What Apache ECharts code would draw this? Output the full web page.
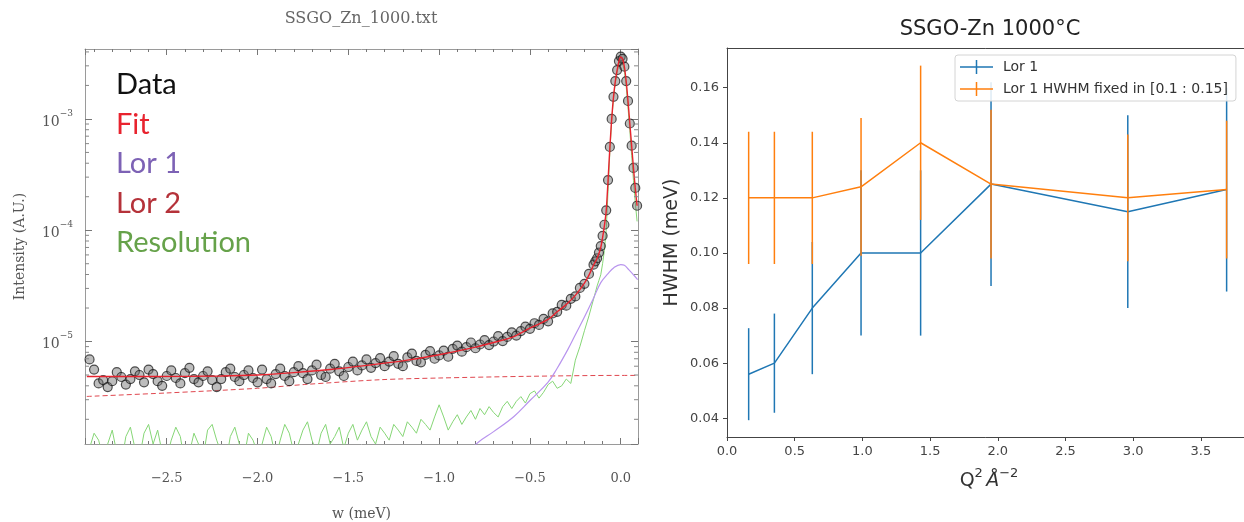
<!DOCTYPE html>
<html><head><meta charset="utf-8">
<script src="https://cdn.jsdelivr.net/npm/echarts@6/dist/echarts.min.js"></script>
<style>html,body{margin:0;padding:0;background:#fff}#c{width:1244px;height:522px}</style>
</head><body><div id="c"></div><script>
// ---------- Left panel: SSGO_Zn_1000.txt ----------
const wData = [
-2.925,-2.9,-2.875,-2.85,-2.825,-2.8,-2.775,-2.75,-2.725,-2.7,
-2.675,-2.65,-2.625,-2.6,-2.575,-2.55,-2.525,-2.5,-2.475,-2.45,
-2.425,-2.4,-2.375,-2.35,-2.325,-2.3,-2.275,-2.25,-2.225,-2.2,
-2.175,-2.15,-2.125,-2.1,-2.075,-2.05,-2.025,-2.0,
-1.975,-1.95,-1.925,-1.9,-1.875,-1.85,-1.825,-1.8,-1.775,-1.75,
-1.725,-1.7,-1.675,-1.65,-1.625,-1.6,-1.575,-1.55,-1.525,-1.5,
-1.475,-1.45,-1.425,-1.4,-1.375,-1.35,-1.325,-1.3,-1.275,-1.25,
-1.225,-1.2,-1.175,-1.15,-1.125,-1.1,-1.075,-1.05,-1.025,-1.0,
-0.975,-0.95,-0.925,-0.9,-0.875,-0.85,-0.825,-0.8,-0.775,-0.75,
-0.725,-0.7,-0.675,-0.65,-0.625,-0.6,-0.575,-0.55,-0.525,-0.5,
-0.475,-0.45,-0.425,-0.4,-0.375,-0.35,-0.325,-0.3,-0.275,-0.25,-0.225,-0.2,-0.175,
-0.15,-0.14,-0.13,-0.12,-0.11,-0.1,-0.09,-0.08,-0.07,-0.06,-0.05,-0.04,-0.03,-0.02,-0.01,0,
0.01,0.02,0.03,0.04,0.05,0.06,0.07,0.08,0.09
];
const dataI = [
6.9e-6,5.6e-6,4.2e-6,4.5e-6,3.9e-6,4.4e-6,5.3e-6,4.8e-6,4.1e-6,4.6e-6,
5.4e-6,5.0e-6,4.3e-6,5.6e-6,5.1e-6,4.4e-6,4.0e-6,4.9e-6,5.5e-6,4.7e-6,
4.2e-6,5.2e-6,5.8e-6,4.6e-6,4.3e-6,4.9e-6,5.4e-6,4.5e-6,3.9e-6,4.6e-6,
5.3e-6,5.7e-6,4.8e-6,4.4e-6,5.0e-6,5.5e-6,4.7e-6,4.3e-6,
5.6e-6,4.6e-6,4.2e-6,5.1e-6,5.7e-6,4.9e-6,4.4e-6,5.3e-6,6.0e-6,5.2e-6,
4.6e-6,5.5e-6,6.2e-6,5.0e-6,4.8e-6,5.7e-6,6.3e-6,5.4e-6,4.9e-6,5.9e-6,
6.6e-6,5.5e-6,6.1e-6,6.9e-6,5.8e-6,6.4e-6,7.1e-6,6.0e-6,6.6e-6,7.4e-6,
6.3e-6,6.0e-6,7.2e-6,7.8e-6,6.7e-6,6.5e-6,7.6e-6,8.2e-6,7.0e-6,7.5e-6,
8.3e-6,7.3e-6,8.6e-6,9.2e-6,8.1e-6,8.9e-6,9.8e-6,8.7e-6,9.4e-6,10.3e-6,
9.3e-6,10.0e-6,11.2e-6,10.1e-6,11.0e-6,12.1e-6,11.3e-6,12.4e-6,13.6e-6,13.0e-6,
14.6e-6,14.1e-6,16.0e-6,15.2e-6,17.9e-6,18.5e-6,21.3e-6,21.0e-6,24.2e-6,25.4e-6,30.3e-6,33.0e-6,40.5e-6,
49e-6,52.5e-6,56e-6,63e-6,72e-6,89e-6,1.12e-4,1.51e-4,2.82e-4,5.6e-4,1.0e-3,1.58e-3,2.19e-3,2.75e-3,3.31e-3,3.63e-3,
3.47e-3,2.95e-3,2.19e-3,1.45e-3,9.1e-4,5.75e-4,3.63e-4,2.4e-4,1.66e-4
];
const resI = [
1.1e-6,1.5e-6,1.3e-6,0.9e-6,1.2e-6,1.6e-6,1.0e-6,0.8e-6,1.4e-6,1.7e-6,
1.1e-6,0.9e-6,1.5e-6,1.8e-6,1.2e-6,1.6e-6,1.0e-6,0.9e-6,1.3e-6,1.7e-6,
1.4e-6,0.8e-6,1.0e-6,1.5e-6,1.2e-6,0.9e-6,1.6e-6,1.8e-6,1.3e-6,1.0e-6,
0.8e-6,1.4e-6,1.7e-6,1.2e-6,0.9e-6,1.5e-6,1.3e-6,1.0e-6,
1.2e-6,1.7e-6,1.4e-6,0.9e-6,1.3e-6,1.8e-6,1.5e-6,1.0e-6,1.2e-6,1.6e-6,
1.9e-6,1.3e-6,1.0e-6,1.5e-6,1.8e-6,1.2e-6,1.4e-6,1.7e-6,1.1e-6,1.5e-6,
1.8e-6,1.3e-6,1.6e-6,1.9e-6,1.4e-6,1.2e-6,1.7e-6,1.5e-6,1.3e-6,1.8e-6,
1.6e-6,1.4e-6,1.9e-6,1.7e-6,1.5e-6,2.0e-6,1.8e-6,1.6e-6,2.1e-6,2.7e-6,
2.1e-6,1.6e-6,1.9e-6,2.2e-6,1.8e-6,2.1e-6,2.4e-6,2.0e-6,2.5e-6,2.2e-6,
2.6e-6,2.3e-6,2.1e-6,2.6e-6,2.9e-6,2.5e-6,2.9e-6,3.2e-6,2.8e-6,3.4e-6,
3.6e-6,3.1e-6,3.5e-6,4.1e-6,4.4e-6,3.8e-6,4.0e-6,4.6e-6,4.2e-6,6.8e-6,9.0e-6,12.5e-6,17.0e-6,
24e-6,27.5e-6,31.6e-6,35.5e-6,39.8e-6,50e-6,66e-6,100e-6,224e-6,501e-6,955e-6,1.51e-3,2.09e-3,2.63e-3,3.09e-3,3.31e-3,
3.16e-3,2.69e-3,1.95e-3,1.26e-3,7.9e-4,4.7e-4,2.8e-4,1.78e-4,1.2e-4
];
const fitW = [-2.94,-2.6,-2.2,-2.0,-1.8,-1.6,-1.4,-1.2,-1.0,-0.8,-0.7,-0.6,-0.5,-0.4,-0.35,-0.3,-0.25,-0.2,-0.175,-0.15,
  -0.13,-0.11,-0.1,-0.09,-0.08,-0.07,-0.06,-0.05,-0.04,-0.03,-0.02,-0.01,0,0.01,0.02,0.03,0.04,0.05,0.06,0.07,0.08,0.09];
const fitI = [4.85e-6,4.85e-6,4.9e-6,5.0e-6,5.25e-6,5.6e-6,6.1e-6,6.7e-6,7.6e-6,8.9e-6,9.8e-6,10.9e-6,13.2e-6,15.8e-6,18.5e-6,
  21.5e-6,26e-6,33.5e-6,39.5e-6,48.5e-6,56e-6,70e-6,86e-6,1.1e-4,1.5e-4,2.8e-4,5.5e-4,9.9e-4,1.57e-3,2.18e-3,
  2.74e-3,3.3e-3,3.6e-3,3.45e-3,2.94e-3,2.18e-3,1.45e-3,9.1e-4,5.75e-4,3.63e-4,2.4e-4,1.66e-4];
const lor1W = [-0.9,-0.786,-0.7,-0.588,-0.5,-0.401,-0.35,-0.291,-0.25,-0.2,-0.15,-0.11,-0.07,-0.038,0,0.02,0.044,0.07,0.093];
const lor1I = [8.3e-7,1.24e-6,1.55e-6,2.12e-6,2.95e-6,4.29e-6,5.75e-6,8.5e-6,1.15e-5,1.66e-5,2.45e-5,3.38e-5,4.07e-5,4.61e-5,4.91e-5,4.84e-5,4.43e-5,3.98e-5,3.6e-5];
const lor2W = [-2.94,-2.5,-2.0,-1.74,-1.32,-1.0,-0.5,0.0,0.09];
const lor2I = [3.21e-6,3.45e-6,3.8e-6,4.11e-6,4.54e-6,4.7e-6,4.87e-6,4.96e-6,4.96e-6];
const yMinorTicks = [2e-6,3e-6,4e-6,5e-6,6e-6,7e-6,8e-6,9e-6,2e-5,3e-5,4e-5,5e-5,6e-5,7e-5,8e-5,9e-5,
  2e-4,3e-4,4e-4,5e-4,6e-4,7e-4,8e-4,9e-4,2e-3,3e-3,4e-3];
const leftLegend = [['Data','#111111'],['Fit','#e8232e'],['Lor 1','#7d62b5'],['Lor 2','#b5323a'],['Resolution','#66a24a']];

// ---------- Right panel: SSGO-Zn 1000°C ----------
const q2 = [0.16,0.35,0.63,0.99,1.43,1.95,2.96,3.69];
const lor1Hwhm = [0.056,0.060,0.080,0.100,0.100,0.125,0.115,0.123];
const lor1Err  = [0.0167,0.018,0.024,0.030,0.030,0.037,0.035,0.037];
const fixedHwhm = [0.120,0.120,0.120,0.124,0.140,0.125,0.120,0.123];
const fixedErr  = [0.024,0.024,0.024,0.025,0.028,0.027,0.023,0.025];
const rightNames = ['Lor 1','Lor 1 HWHM fixed in [0.1 : 0.15]'];
const BLUE = '#1f77b4', ORANGE = '#ff7f0e';

const zip = (xs, ys) => xs.map((x, i) => [x, ys[i]]);
const errData = (v, e) => q2.map((q, i) => [q, v[i] - e[i], v[i] + e[i]]);
const serif = 'DejaVu Serif';
const sans = 'DejaVu Sans';
const LX = [-2.95, 0.095], LY = [1.2e-6, 4.25e-3];

function errRender(color) {
  return function (params, api) {
    const a = api.coord([api.value(0), api.value(1)]);
    const b = api.coord([api.value(0), api.value(2)]);
    return {type: 'line', shape: {x1: a[0], y1: a[1], x2: b[0], y2: b[1]},
      style: {stroke: color, lineWidth: 1.5}};
  };
}
const plusIcon = 'path://M0,6.25h33v1.5h-33z M15.75,0h1.5v14h-1.5z';

const chart = echarts.init(document.getElementById('c'), null, {renderer: 'canvas'});
const leftAxisCommon = {
  gridIndex: 0, type: 'value', min: LX[0], max: LX[1],
  axisLine: {show: true, onZero: false, lineStyle: {color: '#9a9a9a', width: 1}},
  axisTick: {show: true, inside: true, length: 6, lineStyle: {color: '#777'}},
  minorTick: {show: true, splitNumber: 5, length: 3, lineStyle: {color: '#777'}},
  splitLine: {show: false}, minorSplitLine: {show: false}
};
const option = {
  animation: false,
  backgroundColor: '#fff',
  grid: [
    {left: 85, right: 606, top: 49, bottom: 78, outerBoundsMode: 'none', containLabel: false},
    {left: 727, right: -7, top: 48, bottom: 85, outerBoundsMode: 'none', containLabel: false}
  ],
  xAxis: [
    Object.assign({}, leftAxisCommon, {position: 'bottom',
      axisLabel: {margin: 28, fontFamily: serif, fontSize: 13, color: '#555',
        showMinLabel: false, showMaxLabel: false,
        formatter: v => v.toFixed(1).replace('-', '\u2212')},
      name: 'w (meV)', nameLocation: 'middle', nameGap: 63,
      nameTextStyle: {fontFamily: serif, fontSize: 14, color: '#555'}}),
    Object.assign({}, leftAxisCommon, {position: 'top', axisLabel: {show: false}}),
    {gridIndex: 1, type: 'value', min: 0, max: 3.87, interval: 0.5, position: 'bottom',
      axisLine: {show: true, onZero: false, lineStyle: {color: '#444'}},
      axisTick: {show: true, length: 4, lineStyle: {color: '#444'}},
      axisLabel: {margin: 8, fontFamily: sans, fontSize: 13, color: '#444', showMaxLabel: false,
        formatter: v => v.toFixed(1)},
      splitLine: {show: false},
      name: '{n|Q}{s|2} {i|Å}{s|−2}', nameLocation: 'middle', nameGap: 30,
      nameTextStyle: {rich: {
        n: {fontFamily: sans, fontSize: 19, color: '#333', lineHeight: 24, verticalAlign: 'bottom'},
        i: {fontFamily: sans, fontSize: 19, fontStyle: 'italic', color: '#333', lineHeight: 24, verticalAlign: 'bottom'},
        s: {fontFamily: sans, fontSize: 13, color: '#333', lineHeight: 14, verticalAlign: 'top'}}}},
    {gridIndex: 1, type: 'value', min: 0, max: 3.87, position: 'top',
      axisLine: {show: true, onZero: false, lineStyle: {color: '#444'}}, axisTick: {show: false},
      axisLabel: {show: false}, splitLine: {show: false}}
  ],
  yAxis: [
    {gridIndex: 0, type: 'log', logBase: 10, min: LY[0], max: LY[1], position: 'left',
      axisLine: {show: true, onZero: false, lineStyle: {color: '#9a9a9a'}},
      axisTick: {show: true, inside: true, length: 7, lineStyle: {color: '#777'}},
      splitLine: {show: false},
      axisLabel: {margin: 12, showMinLabel: false, showMaxLabel: false,
        formatter: v => '{b|10}{s|\u2212' + Math.round(-Math.log10(v)) + '}',
        rich: {b: {fontFamily: serif, fontSize: 14, color: '#555', lineHeight: 20, verticalAlign: 'bottom'},
               s: {fontFamily: serif, fontSize: 9, color: '#555', lineHeight: 12, verticalAlign: 'top'}}},
      name: 'Intensity (A.U.)', nameLocation: 'middle', nameGap: 58,
      nameTextStyle: {fontFamily: serif, fontSize: 14, color: '#555'}},
    {gridIndex: 0, type: 'log', logBase: 10, min: LY[0], max: LY[1], position: 'right',
      axisLine: {show: true, onZero: false, lineStyle: {color: '#9a9a9a'}},
      axisTick: {show: true, inside: true, length: 7, lineStyle: {color: '#777'}},
      axisLabel: {show: false}, splitLine: {show: false}},
    {gridIndex: 1, type: 'value', min: 0.0332, max: 0.1744, splitNumber: 7, position: 'left',
      axisLine: {show: true, onZero: false, lineStyle: {color: '#444'}},
      axisTick: {show: true, length: 4, lineStyle: {color: '#444'}},
      axisLabel: {margin: 8, fontFamily: sans, fontSize: 13, color: '#444',
        showMinLabel: false, showMaxLabel: false, formatter: v => v.toFixed(2)},
      splitLine: {show: false},
      name: 'HWHM (meV)', nameLocation: 'middle', nameGap: 45,
      nameTextStyle: {fontFamily: sans, fontSize: 19, color: '#333'}}
  ],
  legend: {
    left: 955, top: 55, orient: 'vertical', padding: [5, 8, 5, 5], itemGap: 8,
    itemWidth: 33, itemHeight: 14,
    backgroundColor: 'rgba(255,255,255,0.85)', borderColor: '#d4d4d4', borderWidth: 1, borderRadius: 3,
    textStyle: {fontFamily: sans, fontSize: 14, color: '#333', padding: [0, 0, 0, 5]},
    data: rightNames.map(n => ({name: n, icon: plusIcon}))
  },
  graphic: [
    {type: 'text', x: 361, y: 19, style: {text: 'SSGO_Zn_1000.txt', align: 'center', verticalAlign: 'middle',
      fontFamily: serif, fontSize: 16, fill: '#666'}},
    {type: 'text', x: 990, y: 30, style: {text: 'SSGO-Zn 1000°C', align: 'center', verticalAlign: 'middle',
      fontFamily: sans, fontSize: 21, fill: '#222'}}
  ].concat(leftLegend.map((d, i) => ({type: 'text', x: 116, y: 85 + i * 39.5,
      style: {text: d[0], verticalAlign: 'middle', fontFamily: 'Lato', fontSize: 29, fill: d[1]}}))),
  series: [
    {name: 'lor2Curve', type: 'line', xAxisIndex: 0, yAxisIndex: 0, data: zip(lor2W, lor2I), showSymbol: false,
      smooth: 0.3, lineStyle: {color: '#e0474f', width: 1, type: [5, 3]}, itemStyle: {color: '#e0474f'}, z: 2},
    {name: 'resCurve', type: 'line', xAxisIndex: 0, yAxisIndex: 0, data: zip(wData, resI), showSymbol: false,
      lineStyle: {color: '#86d676', width: 1}, itemStyle: {color: '#86d676'}, z: 2},
    {name: 'lor1Curve', type: 'line', xAxisIndex: 0, yAxisIndex: 0, data: zip(lor1W, lor1I), showSymbol: false,
      smooth: 0.4, lineStyle: {color: '#b894ee', width: 1.2}, itemStyle: {color: '#b894ee'}, z: 2},
    {name: 'dataPoints', type: 'scatter', xAxisIndex: 0, yAxisIndex: 0, data: zip(wData, dataI),
      symbol: 'circle', symbolSize: 9,
      itemStyle: {color: 'rgba(105,105,105,0.55)', borderColor: 'rgba(20,20,20,0.9)', borderWidth: 1.2}, z: 3},
    {name: 'fitCurve', type: 'line', xAxisIndex: 0, yAxisIndex: 0, data: zip(fitW, fitI), showSymbol: false,
      smooth: 0.3, lineStyle: {color: '#e8232e', width: 1.4}, itemStyle: {color: '#e8232e'}, z: 4},
    {name: 'minorTicks', type: 'custom', xAxisIndex: 0, yAxisIndex: 0, data: yMinorTicks.map(v => [0, v]),
      encode: {x: 0, y: 1}, silent: true, z: 5,
      renderItem: (params, api) => {
        const cs = params.coordSys;
        const y = api.coord([0, api.value(1)])[1];
        const st = {stroke: '#888', lineWidth: 1};
        return {type: 'group', children: [
          {type: 'line', shape: {x1: cs.x, y1: y, x2: cs.x + 4, y2: y}, style: st},
          {type: 'line', shape: {x1: cs.x + cs.width - 4, y1: y, x2: cs.x + cs.width, y2: y}, style: st}
        ]};
      }},
    {name: rightNames[0], type: 'line', xAxisIndex: 2, yAxisIndex: 2, data: zip(q2, lor1Hwhm), showSymbol: false,
      lineStyle: {color: BLUE, width: 1.5}, itemStyle: {color: BLUE}, z: 2},
    {name: rightNames[0], type: 'custom', xAxisIndex: 2, yAxisIndex: 2, data: errData(lor1Hwhm, lor1Err),
      encode: {x: 0, y: [1, 2]}, renderItem: errRender(BLUE), itemStyle: {color: BLUE}, z: 2},
    {name: rightNames[1], type: 'line', xAxisIndex: 2, yAxisIndex: 2, data: zip(q2, fixedHwhm), showSymbol: false,
      lineStyle: {color: ORANGE, width: 1.5}, itemStyle: {color: ORANGE}, z: 3},
    {name: rightNames[1], type: 'custom', xAxisIndex: 2, yAxisIndex: 2, data: errData(fixedHwhm, fixedErr),
      encode: {x: 0, y: [1, 2]}, renderItem: errRender(ORANGE), itemStyle: {color: ORANGE}, z: 3}
  ]
};
chart.setOption(option);
</script></body></html>
